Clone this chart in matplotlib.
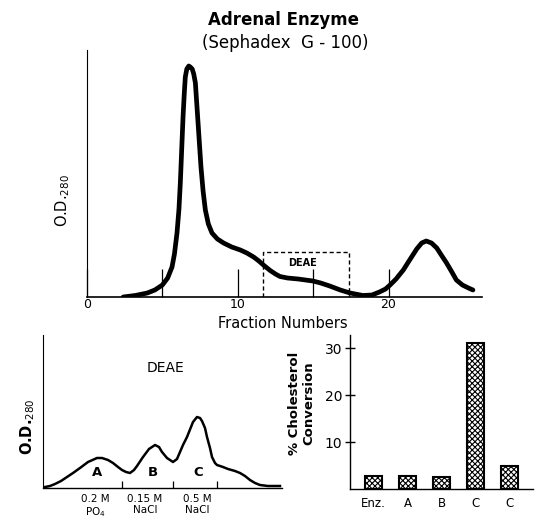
import numpy as np
import matplotlib
matplotlib.use("Agg")
import matplotlib.pyplot as plt

# Sephadex G-100 elution profile (fraction number, O.D.280)
sephadex_fraction = [2.4, 3.2, 4.0, 4.5, 5.0, 5.35, 5.64, 5.8, 5.97, 6.1, 6.19, 6.28, 6.37,
                     6.45, 6.52, 6.62, 6.75, 6.85, 6.98, 7.08, 7.19, 7.26, 7.34, 7.45,
                     7.56, 7.7, 7.85, 8.05, 8.29, 8.65, 9.06, 9.6, 10.17, 10.6, 11.05,
                     11.4, 11.7, 12.15, 12.5, 12.8, 13.3, 14.0, 14.98, 15.5, 16.1, 16.8,
                     17.45, 18.3, 18.9, 19.4, 19.8, 20.1, 20.5, 20.98, 21.4, 21.87, 22.2,
                     22.5, 22.85, 23.2, 23.5, 23.85, 24.2, 24.5, 24.9, 25.3, 25.6]
sephadex_od = [0.0, 0.015, 0.04, 0.07, 0.12, 0.19, 0.30, 0.43, 0.64, 0.88, 1.14, 1.47,
               1.80, 2.03, 2.20, 2.28, 2.31, 2.30, 2.28, 2.23, 2.14, 1.98, 1.80, 1.55,
               1.30, 1.06, 0.87, 0.73, 0.64, 0.58, 0.54, 0.50, 0.47, 0.44, 0.40,
               0.36, 0.32, 0.265, 0.23, 0.205, 0.19, 0.18, 0.16, 0.14, 0.11, 0.07,
               0.04, 0.015, 0.02, 0.05, 0.08, 0.12, 0.18, 0.27, 0.37, 0.48, 0.54,
               0.56, 0.54, 0.49, 0.42, 0.34, 0.25, 0.17, 0.12, 0.09, 0.07]
deae_pool = (11.65, 17.35, 0.45)

# DEAE elution profile
deae_volume = [0.2, 0.7, 1.2, 1.8, 2.4, 3.0, 3.7, 4.5, 5.4, 5.9, 6.5, 7.0, 7.5, 7.9, 8.3,
               8.7, 9.1, 9.4, 10.0, 10.6, 11.2, 11.6, 11.9, 12.4, 13.0, 13.4, 13.7, 14.0,
               14.4, 15.0, 15.4, 15.7, 15.9, 16.2, 16.4, 16.7, 16.9, 17.2, 17.4, 18.0,
               18.5, 19.2, 19.7, 20.2, 20.7, 21.2, 21.7, 22.5, 23.7]
deae_od = [0.01, 0.02, 0.04, 0.07, 0.11, 0.15, 0.20, 0.26, 0.30, 0.30, 0.28, 0.25, 0.21,
           0.18, 0.16, 0.15, 0.18, 0.22, 0.31, 0.39, 0.43, 0.41, 0.36, 0.30, 0.26, 0.29,
           0.36, 0.43, 0.51, 0.66, 0.71, 0.70, 0.67, 0.60, 0.51, 0.40, 0.31, 0.25, 0.23,
           0.21, 0.19, 0.17, 0.15, 0.12, 0.08, 0.05, 0.03, 0.02, 0.02]
deae_peaks = ['A', 'B', 'C']
deae_peak_pos = [5.4, 11.0, 15.5]
deae_cuts = [7.9, 13.0, 17.4]
deae_eluent = ['0.2 M\nPO$_4$', '0.15 M\nNaCl', '0.5 M\nNaCl']
deae_eluent_pos = [5.2, 10.2, 15.4]

# cholesterol conversion
bar_labels = ['Enz.', 'A', 'B', 'C', 'C']
bar_values = [2.7, 2.7, 2.5, 31.2, 5.0]

plt.rcParams['font.family'] = ['DejaVu Sans']
plt.rcParams['hatch.linewidth'] = 0.8

fig = plt.figure(figsize=(5.35, 5.21), dpi=100)

# ---- top panel
ax = fig.add_axes([87/535, 1-297/521, (482-87)/535, 247/521])
ax.plot(sephadex_fraction, sephadex_od, color='black', lw=3.4,
        solid_capstyle='round', solid_joinstyle='round')
x0, x1, h = deae_pool
ax.plot([x0, x0, x1, x1], [0, h, h, 0], color='black', lw=1, ls=(0, (3, 2)))
ax.text((x0 + x1) / 2 - 0.2, 0.34, 'DEAE', ha='center', va='center', fontsize=7, fontweight='bold')
ax.set_xlim(0, 26.2)
ax.set_ylim(0, 2.47)
ax.set_xticks([0, 5, 10, 15, 20])
ax.set_xticklabels(['0', '', '10', '', '20'])
ax.tick_params(axis='x', direction='in', length=20, width=0.9, pad=-8, labelsize=9)
for lab in ax.get_xticklabels():
    lab.set_y(-0.05)
ax.set_yticks([])
for s in ['top', 'right']:
    ax.spines[s].set_visible(False)
ax.spines['left'].set_linewidth(0.8)
ax.spines['bottom'].set_linewidth(1.2)
fig.text(284/535, 1-20/521, 'Adrenal Enzyme', ha='center', va='center', fontsize=12, fontweight='bold')
fig.text(285/535, 1-43/521, '(Sephadex  G - 100)', ha='center', va='center', fontsize=12)
fig.text(283/535, 1-323/521, 'Fraction Numbers', ha='center', va='center', fontsize=10.5)
fig.text(63/535, 1-201/521, 'O.D.$_{280}$', ha='center', va='center', rotation=90, fontsize=10.5)

# ---- bottom left (DEAE)
ax2 = fig.add_axes([43/535, 1-488/521, (282-43)/535, 153/521])
ax2.plot(deae_volume, deae_od, color='black', lw=1.8, solid_joinstyle='round')
ax2.set_xlim(0, 23.9)
ax2.set_ylim(0, 1.53)
ax2.set_xticks(deae_cuts)
ax2.set_xticklabels([])
ax2.tick_params(axis='x', direction='in', length=5, width=0.9)
ax2.set_yticks([])
for s in ['top', 'right']:
    ax2.spines[s].set_visible(False)
ax2.spines['left'].set_linewidth(0.8)
ax2.spines['bottom'].set_linewidth(1.0)
for name, xp in zip(deae_peaks, deae_peak_pos):
    ax2.text(xp, 0.15, name, ha='center', va='center', fontsize=9.5, fontweight='bold')
for lab, xp in zip(deae_eluent, deae_eluent_pos):
    ax2.text(xp, -0.06, lab, ha='center', va='top', fontsize=7.5, linespacing=1.1)
ax2.text(12.2, 1.2, 'DEAE', ha='center', va='center', fontsize=10)
fig.text(28/535, 1-427/521, 'O.D.$_{280}$', ha='center', va='center', rotation=90,
         fontsize=10.5, fontweight='bold')

# ---- bottom right (bars)
ax3 = fig.add_axes([350/535, 1-489/521, (533-350)/535, 154/521])
pos = np.arange(len(bar_values))
ax3.bar(pos, bar_values, width=0.5, color='white', edgecolor='black', hatch='xxxxxx', lw=1.5)
ax3.set_xlim(-0.7, 4.68)
ax3.set_ylim(0, 32.8)
ax3.set_xticks(pos)
ax3.set_xticklabels(bar_labels, fontsize=8.5)
ax3.tick_params(axis='x', length=0, pad=6)
ax3.set_yticks([10, 20, 30])
ax3.tick_params(axis='y', direction='inout', length=7, width=1, labelsize=10, pad=2)
for s in ['top', 'right']:
    ax3.spines[s].set_visible(False)
ax3.spines['left'].set_linewidth(1.0)
ax3.spines['bottom'].set_linewidth(1.0)
fig.text(302/535, 1-403/521, '% Cholesterol\nConversion', ha='center', va='center',
         rotation=90, fontsize=9.5, fontweight='bold', linespacing=1.1)

fig.savefig('out.png', dpi=100)
